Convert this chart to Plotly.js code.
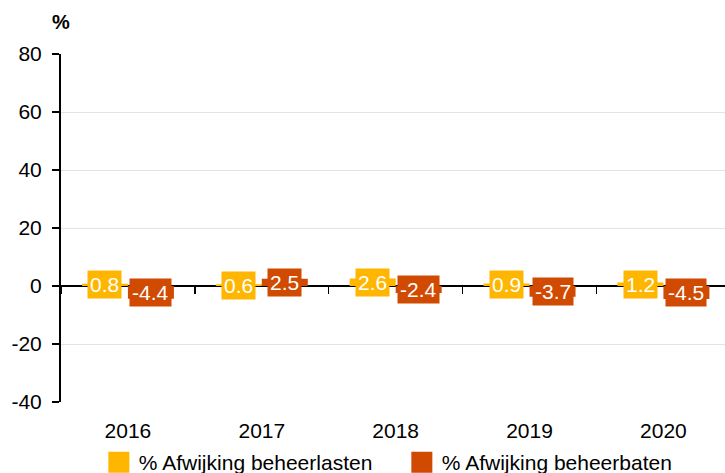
<!DOCTYPE html>
<html>
<head>
<meta charset="utf-8">
<script src="https://cdn.plot.ly/plotly-3.0.1.min.js"></script>
<style>html,body{margin:0;padding:0;background:#fff;}#chart{width:725px;height:473px;}</style>
</head>
<body>
<div id="chart"></div>
<script>
var years = ['2016', '2017', '2018', '2019', '2020'];
var lasten = [0.8, 0.6, 2.6, 0.9, 1.2];
var baten = [-4.4, 2.5, -2.4, -3.7, -4.5];
var seriesNames = ['% Afwijking beheerlasten', '% Afwijking beheerbaten'];
var seriesColors = ['#FFB600', '#D04A02'];
var yTicks = [-40, -20, 0, 20, 40, 60, 80];
var yTickText = ['-40', '-20', '0', '20', '40', '60', '80'];

var FONT = 'Liberation Sans, Arial, sans-serif';
var bargap = 0.313;
var xRange = [-0.5, 4.46];
var offset = (1 - bargap) / 4;

var series = [lasten, baten];
var traces = [];
series.forEach(function (vals, s) {
  traces.push({
    type: 'bar', x: years, y: vals, name: seriesNames[s],
    marker: {color: seriesColors[s]}, showlegend: false, hoverinfo: 'skip'
  });
});
// legend proxies
series.forEach(function (vals, s) {
  traces.push({
    type: 'scatter', mode: 'markers', x: [null], y: [null], name: seriesNames[s],
    marker: {symbol: 'square', size: 16, color: seriesColors[s], line: {color: seriesColors[s], width: 5}},
    showlegend: true, hoverinfo: 'skip'
  });
});
// carrier for zero-line category ticks
traces.push({type: 'scatter', mode: 'markers', x: years, y: years.map(function(){return null;}),
  xaxis: 'x2', showlegend: false, hoverinfo: 'skip'});

var annotations = [];
series.forEach(function (vals, s) {
  vals.forEach(function (v, i) {
    annotations.push({
      xref: 'x', yref: 'y', x: i + (s === 0 ? -offset : offset), y: v / 2,
      text: v.toFixed(1), showarrow: false, xanchor: 'center', yanchor: 'middle',
      bgcolor: seriesColors[s], borderpad: 2,
      font: {family: FONT, size: 21, color: '#ffffff'}
    });
  });
});
annotations.push({
  xref: 'paper', yref: 'paper', x: 0, y: 1.092, text: '<b>%</b>', showarrow: false,
  xanchor: 'center', yanchor: 'middle', font: {family: FONT, size: 20, color: '#000'}
});

var layout = {
  width: 725, height: 473,
  margin: {l: 61, r: 0, t: 54, b: 71, autoexpand: false},
  paper_bgcolor: '#fff', plot_bgcolor: '#fff',
  font: {family: FONT, size: 21, color: '#000'},
  barmode: 'group', bargap: bargap, bargroupgap: 0,
  showlegend: true,
  legend: {orientation: 'h', x: 0.057, xanchor: 'left', y: -0.115, yanchor: 'top', entrywidth: 258,
    font: {family: FONT, size: 21, color: '#000'}, bgcolor: 'rgba(0,0,0,0)'},
  xaxis: {type: 'category', range: xRange, showgrid: false, zeroline: false, showline: false,
    ticks: '', ticklabelstandoff: 14, tickfont: {family: FONT, size: 21, color: '#000'}, fixedrange: true},
  xaxis2: {type: 'category', overlaying: 'x', anchor: 'free', position: 1/3, side: 'bottom',
    range: xRange, matches: 'x', showgrid: false, zeroline: false, showline: false,
    tickson: 'boundaries', ticks: 'outside', ticklen: 7, tickwidth: 1.5, tickcolor: '#000',
    showticklabels: false},
  yaxis: {range: [-40, 80], tickvals: yTicks, ticktext: yTickText, showgrid: true, gridcolor: '#e3e3e3', gridwidth: 1,
    zeroline: true, zerolinecolor: '#000', zerolinewidth: 2,
    showline: true, linecolor: '#000', linewidth: 2,
    ticks: 'outside', ticklen: 7, tickwidth: 1.5, tickcolor: '#000', ticklabelstandoff: 6,
    tickfont: {family: FONT, size: 21, color: '#000'}, fixedrange: true},
  annotations: annotations
};

Plotly.newPlot('chart', traces, layout, {displayModeBar: false, staticPlot: true});
</script>
</body>
</html>
